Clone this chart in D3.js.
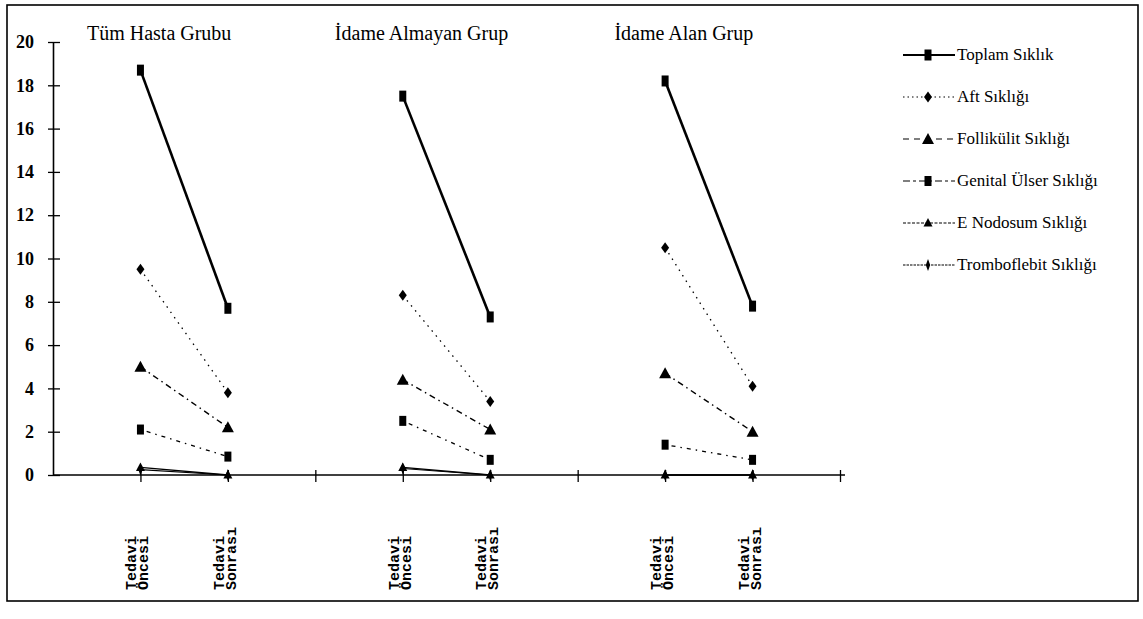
<!DOCTYPE html>
<html><head><meta charset="utf-8">
<script src="https://cdn.jsdelivr.net/npm/d3@7"></script>
<style>body{margin:0;background:#fff}svg{display:block}</style>
</head><body><svg id="c" width="1143" height="619"></svg>
<script>
// ---- data ----
const groupTitles = ["Tüm Hasta Grubu", "İdame Almayan Grup", "İdame Alan Grup"];
const periodLabels = [["Tedavi", "Öncesi"], ["Tedavi", "Sonrası"]];
const slotNames = ["", "Tüm-Ö", "Tüm-S", "", "Almayan-Ö", "Almayan-S", "", "Alan-Ö", "Alan-S", ""];
const yTicks = [0, 2, 4, 6, 8, 10, 12, 14, 16, 18, 20];
const seriesNames = ["Toplam Sıklık", "Aft Sıklığı", "Follikülit Sıklığı", "Genital Ülser Sıklığı", "E  Nodosum Sıklığı", "Tromboflebit Sıklığı"];
// values per group: [öncesi, sonrası] for Tüm, Almayan, Alan
const toplam       = [18.7, 7.7, 17.5, 7.3, 18.2, 7.8];
const aft          = [9.5, 3.8, 8.3, 3.4, 10.5, 4.1];
const follikulit   = [5.0, 2.2, 4.4, 2.1, 4.7, 2.0];
const genital      = [2.1, 0.85, 2.5, 0.7, 1.4, 0.7];
const nodosum      = [0.35, 0, 0.35, 0, 0, 0];
const tromboflebit = [0.25, 0, 0.3, 0, 0, 0];
const seriesValues = [toplam, aft, follikulit, genital, nodosum, tromboflebit];

// ---- styles ----
const styles = [
  {w: 2.6, dash: null, marker: "squareTall"},
  {w: 1.3, dash: "1.5,5", marker: "diamond"},
  {w: 1.4, dash: "6,4,1.5,4", marker: "triangle"},
  {w: 1.3, dash: "1.5,5,4,5", marker: "square"},
  {w: 1.3, dash: null, marker: "triangleSmall"},
  {w: 1.1, dash: null, marker: "bar"}
];

const svg = d3.select("#c");
svg.append("rect").attr("x", 7).attr("y", 5).attr("width", 1131).attr("height", 596)
  .attr("fill", "none").attr("stroke", "#000").attr("stroke-width", 1.6);

const x = d3.scalePoint().domain(d3.range(slotNames.length)).range([53, 840]);
const y = d3.scaleLinear().domain([0, 20]).range([475, 42]);

// y axis
const ya = svg.append("g").attr("transform", `translate(${x(0)},0)`)
  .call(d3.axisLeft(y).tickValues(yTicks).tickSize(5).tickSizeOuter(0));
ya.select(".domain").attr("stroke-width", 1.6);
ya.selectAll(".tick line").attr("x1", 7).attr("x2", -5).attr("stroke-width", 1.3);
ya.selectAll(".tick text").attr("x", -19)
  .style("font-family", "'Liberation Serif', 'DejaVu Serif', serif")
  .style("font-size", "18px").style("font-weight", "bold").attr("fill", "#000");

// x axis
const xa = svg.append("g").attr("transform", `translate(0,${y(0)})`)
  .call(d3.axisBottom(x).tickValues(d3.range(1, slotNames.length)).tickFormat("").tickSize(7).tickSizeOuter(0));
xa.select(".domain").attr("d", `M${x(0)},0H845`).attr("stroke-width", 1.6);
xa.selectAll(".tick line").attr("y1", -5).attr("y2", 7).attr("stroke-width", 1.3);

// x labels
const labelSlots = [1, 2, 4, 5, 7, 8];
labelSlots.forEach((s, i) => {
  const lab = periodLabels[i % 2];
  const t = svg.append("text")
    .attr("transform", `translate(${x(s)},590) rotate(-90)`)
    .style("font-family", "'Liberation Mono', 'DejaVu Sans Mono', monospace")
    .style("font-size", "15px").style("font-weight", "bold").attr("fill", "#000");
  t.append("tspan").attr("x", 0).attr("y", -4).text(lab[0]);
  t.append("tspan").attr("x", 0).attr("y", 8).text(lab[1]);
});

// group titles
groupTitles.forEach((g, i) => {
  const cx = (x(3 * i + 1) + x(3 * i + 2)) / 2 - 25;
  svg.append("text").attr("x", cx).attr("y", 40).attr("text-anchor", "middle")
    .style("font-family", "'Liberation Serif', 'DejaVu Serif', serif")
    .style("font-size", "20px").attr("fill", "#000").text(g);
});

function marker(sel, type, cx, cy) {
  const m = {
    squareTall: `M${cx-3.5},${cy-5.5}h7v11h-7z`,
    square: `M${cx-3.5},${cy-5}h7v10h-7z`,
    diamond: `M${cx},${cy-5.5}L${cx+4},${cy}L${cx},${cy+5.5}L${cx-4},${cy}z`,
    triangle: `M${cx},${cy-6}L${cx+6},${cy+5}L${cx-6},${cy+5}z`,
    triangleSmall: `M${cx},${cy-5}L${cx+4.5},${cy+3.5}L${cx-4.5},${cy+3.5}z`,
    bar: `M${cx},${cy-6}L${cx+2.2},${cy}L${cx},${cy+6}L${cx-2.2},${cy}z`
  }[type];
  sel.append("path").attr("d", m).attr("fill", "#000");
}

// series
const line = d3.line().x(d => x(d[0])).y(d => y(d[1]));
seriesValues.forEach((vals, si) => {
  const st = styles[si];
  const g = svg.append("g");
  for (let gi = 0; gi < 3; gi++) {
    const pts = [[3 * gi + 1, vals[2 * gi]], [3 * gi + 2, vals[2 * gi + 1]]];
    g.append("path").attr("d", line(pts)).attr("fill", "none").attr("stroke", "#000")
      .attr("stroke-width", st.w).attr("stroke-dasharray", st.dash);
    pts.forEach(p => marker(g, st.marker, x(p[0]), y(p[1])));
  }
});

// legend
const legendDash = [null, "1.5,3", "6,5", "7,3,3,3", "3,1.5", "2.5,1"];
seriesNames.forEach((n, i) => {
  const ly = 55 + i * 42;
  const st = styles[i];
  const g = svg.append("g");
  g.append("line").attr("x1", 903).attr("x2", 955).attr("y1", ly).attr("y2", ly)
    .attr("stroke", "#000").attr("stroke-width", i === 0 ? 2 : 1.1).attr("stroke-dasharray", legendDash[i]);
  marker(g, st.marker, 928, ly);
  g.append("text").attr("x", 957).attr("y", ly + 5)
    .style("font-family", "'Liberation Serif', 'DejaVu Serif', serif")
    .style("font-size", "17px").attr("fill", "#000").text(n);
});
</script></body></html>
